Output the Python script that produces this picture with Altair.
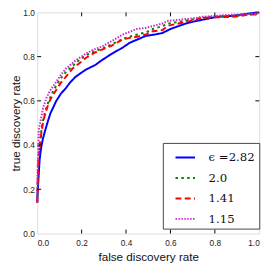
import altair as alt
import pandas as pd

series = ["ϵ =2.82", "2.0", "1.41", "1.15"]
colors = ["#0000ff", "#008000", "#ff0000", "#cc22cc"]
dashes = [[1, 0], [2.5, 3.5], [6, 3.5], [1.5, 1.5]]

fpr_a = [0, 0.003, 0.007, 0.011, 0.018, 0.026, 0.036, 0.049, 0.06, 0.086, 0.105, 0.129, 0.15, 0.173,
         0.217, 0.261, 0.29, 0.334, 0.385, 0.417, 0.45, 0.49, 0.53, 0.564, 0.6, 0.636, 0.67, 0.71,
         0.76, 0.81, 0.886, 0.94, 0.99, 1.0]
tpr_a = [0.14, 0.2, 0.27, 0.335, 0.39, 0.43, 0.467, 0.511, 0.545, 0.6, 0.63, 0.658, 0.685, 0.709,
         0.74, 0.762, 0.783, 0.812, 0.841, 0.863, 0.877, 0.894, 0.9, 0.907, 0.925, 0.938, 0.95, 0.96,
         0.97, 0.98, 0.985, 0.993, 1.0, 1.0]

fpr_b = [0, 0.002, 0.004, 0.006, 0.012, 0.02, 0.03, 0.045, 0.056, 0.07, 0.086, 0.105, 0.129, 0.159,
         0.19, 0.217, 0.261, 0.3, 0.334, 0.385, 0.417, 0.45, 0.49, 0.52, 0.564, 0.59, 0.636, 0.71,
         0.74, 0.8, 0.886, 0.95, 0.99, 1.0]
tpr_b = [0.14, 0.23, 0.3, 0.345, 0.41, 0.475, 0.53, 0.58, 0.61, 0.64, 0.67, 0.7, 0.73, 0.758,
         0.785, 0.805, 0.825, 0.84, 0.855, 0.88, 0.89, 0.9, 0.91, 0.925, 0.938, 0.95, 0.957, 0.97,
         0.975, 0.98, 0.985, 0.99, 0.995, 1.0]

fpr_c = fpr_b
tpr_c = [0.14, 0.22, 0.29, 0.335, 0.4, 0.467, 0.52, 0.57, 0.6, 0.625, 0.65, 0.68, 0.709, 0.746,
         0.77, 0.793, 0.819, 0.835, 0.849, 0.878, 0.885, 0.89, 0.9, 0.915, 0.92, 0.94, 0.95, 0.965,
         0.975, 0.978, 0.98, 0.99, 0.99, 1.0]

fpr_d = [0, 0.001, 0.002, 0.003, 0.007, 0.015, 0.027, 0.04, 0.056, 0.086, 0.105, 0.129, 0.152, 0.173,
         0.217, 0.25, 0.29, 0.349, 0.385, 0.417, 0.447, 0.49, 0.564, 0.59, 0.71, 0.74, 0.85, 0.99, 1.0]
tpr_d = [0.14, 0.22, 0.3, 0.335, 0.467, 0.51, 0.57, 0.61, 0.643, 0.687, 0.715, 0.746, 0.765, 0.783,
         0.812, 0.83, 0.845, 0.878, 0.9, 0.912, 0.925, 0.93, 0.95, 0.962, 0.974, 0.98, 0.988, 0.995, 1.0]

tick_values = [0.2, 0.4, 0.6, 0.8]
axis_values = [0.0, 0.2, 0.4, 0.6, 0.8, 1.0]

rows = []
for name, fx, ty in zip(series, [fpr_a, fpr_b, fpr_c, fpr_d], [tpr_a, tpr_b, tpr_c, tpr_d]):
    for i, (a, b) in enumerate(zip(fx, ty)):
        rows.append({"series": name, "fpr": a, "tpr": b, "idx": i})
df = pd.DataFrame(rows)

W, H = 228, 227
xscale = alt.Scale(domain=[0, 1], nice=False, zero=False)
yscale = alt.Scale(domain=[0, 1], nice=False, zero=False)
xaxis = alt.Axis(title="false discovery rate", values=axis_values, format=".1f", ticks=False,
                 domain=False, grid=False, labelFont="Liberation Sans", labelFontSize=8.5,
                 labelColor="#222", labelPadding=5.5, titleFont="Liberation Sans", titleFontSize=12,
                 titleFontWeight="normal", titleColor="#111", titlePadding=5)
yaxis = alt.Axis(title="true discovery rate", values=axis_values, format=".1f", ticks=False,
                 domain=False, grid=False, labelFont="Liberation Sans", labelFontSize=8.5,
                 labelColor="#222", labelPadding=3, titleFont="Liberation Sans", titleFontSize=12,
                 titleFontWeight="normal", titleColor="#111", titleX=-22, titleY=H / 2,
                 titleAngle=270, titleBaseline="middle", titleAlign="center")

legend = alt.Legend(orient="none", legendX=129, legendY=134, title=None, symbolType="stroke",
                    symbolSize=400, symbolStrokeWidth=2, labelFont="DejaVu Serif",
                    labelFontSize=12, labelColor="#111", labelOffset=13, padding=4,
                    symbolOffset=8, strokeColor="#444", fillColor="white", rowPadding=4)

lines = alt.Chart(df).mark_line(strokeWidth=2).encode(
    x=alt.X("fpr:Q", scale=xscale, axis=xaxis),
    y=alt.Y("tpr:Q", scale=yscale, axis=yaxis),
    color=alt.Color("series:N", scale=alt.Scale(domain=series, range=colors), legend=legend),
    strokeDash=alt.StrokeDash("series:N", scale=alt.Scale(domain=series, range=dashes), legend=legend),
    order=alt.Order("idx:Q"),
)

tdf = pd.DataFrame({"fpr": tick_values, "tpr": tick_values})
tick_len = 4
bottom = alt.Chart(tdf).mark_rule(color="black", strokeWidth=1).encode(
    x=alt.X("fpr:Q", scale=xscale, axis=xaxis), y=alt.value(H), y2=alt.value(H - tick_len))
top = alt.Chart(tdf).mark_rule(color="black", strokeWidth=1).encode(
    x=alt.X("fpr:Q", scale=xscale, axis=xaxis), y=alt.value(0), y2=alt.value(tick_len))
left = alt.Chart(tdf).mark_rule(color="black", strokeWidth=1).encode(
    y=alt.Y("tpr:Q", scale=yscale, axis=yaxis), x=alt.value(0), x2=alt.value(tick_len))
right = alt.Chart(tdf).mark_rule(color="black", strokeWidth=1).encode(
    y=alt.Y("tpr:Q", scale=yscale, axis=yaxis), x=alt.value(W), x2=alt.value(W - tick_len))

chart = alt.layer(lines, bottom, top, left, right).properties(
    width=W, height=H,
    autosize=alt.AutoSizeParams(type="none"),
    padding={"left": 30, "top": 1, "right": 10, "bottom": 36},
).configure_view(stroke="black", strokeWidth=1.2).configure(background="white")

chart.save("out.html", embed_options={"renderer": "svg", "actions": False})
